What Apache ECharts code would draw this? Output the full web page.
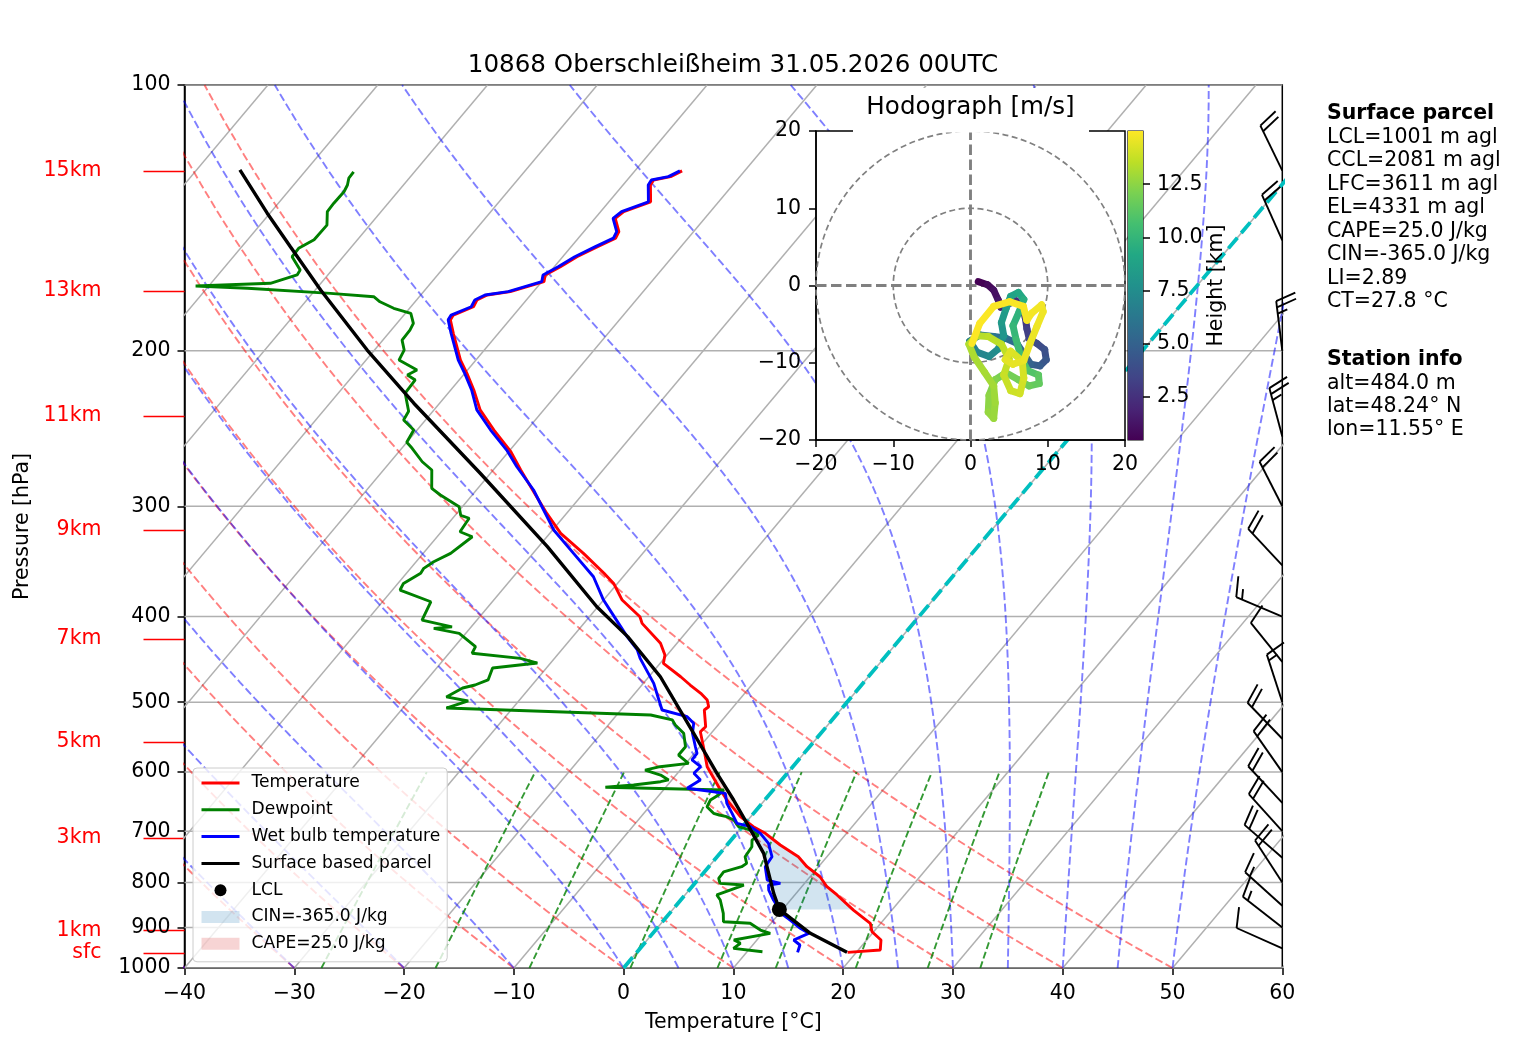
<!DOCTYPE html>
<html><head><meta charset="utf-8">
<script src="https://cdn.jsdelivr.net/npm/echarts@6/dist/echarts.min.js"></script>
<style>html,body{margin:0;padding:0;background:#fff}#c{width:1517px;height:1054px}</style>
</head><body><div id="c"></div>
<script>
// ---------------- DATA ----------------
const titleText = '10868 Oberschleißheim 31.05.2026 00UTC';
// [pressure hPa, temperature °C]
const temperature = [[960,19.2],[954.1,22.0],[929.6,21.3],[909.7,19.85],[890,19.05],[859.8,16.5],[826.6,13.85],[809,12.3],[788.2,10.9],[767.9,8.95],[748.2,7.4],[725.6,4.85],[703.9,2.6],[691.8,1.0],[674,-0.95],[645.3,-3.45],[628.7,-4.8],[591.6,-7.8],[568.9,-9.2],[540,-11.1],[533,-11.0],[510.3,-12.4],[506,-12.25],[497.2,-12.9],[488.6,-14.0],[478.1,-15.6],[467.9,-17.1],[451.8,-19.7],[442.1,-20.2],[428.8,-21.5],[407.1,-24.7],[400.2,-25.4],[383.1,-28.3],[366.8,-30.35],[357.3,-32.0],[339.2,-35.4],[322,-39.0],[305.6,-41.8],[292.6,-44.0],[272.9,-47.5],[260.2,-49.8],[245.9,-53.0],[233.3,-55.8],[221.5,-57.9],[212.1,-59.8],[204.9,-61.4],[191.1,-64.1],[184.5,-65.4],[182.2,-65.5],[178.3,-64.3],[175.2,-64.5],[172.9,-63.95],[171.4,-62.1],[167,-59.8],[164.1,-60.2],[160.6,-59.45],[156.5,-58.7],[152.4,-57.6],[149.1,-56.6],[146.6,-56.8],[141.6,-58.15],[139.1,-57.9],[135.6,-56.2],[129.8,-57.5],[128.1,-57.6],[127,-56.3],[125.1,-55.7]];
const dewpoint = [[958.4,11.4],[950,8.5],[937.6,8.75],[929.6,7.9],[913.5,10.7],[905.7,9.55],[890,8.1],[886.3,5.55],[867.3,4.9],[837.6,3.6],[826.6,2.9],[805.5,4.6],[802,2.3],[791.6,1.8],[778.2,1.75],[767.9,3.0],[761.3,3.2],[748.2,2.55],[728.9,2.4],[716.3,1.9],[707.1,2.1],[697.9,1.0],[691.8,-0.35],[679.8,-1.3],[674,-2.2],[671,-3.0],[668.1,-3.65],[656.8,-4.75],[645.3,-4.95],[636.9,-4.6],[628.7,-4.5],[624.2,-15.5],[620.5,-13.1],[615.2,-10.9],[612.4,-10.3],[604.6,-11.4],[596.8,-13.2],[591.6,-12.1],[586.5,-9.75],[573.9,-11.3],[561.6,-11.3],[542.2,-12.5],[530.6,-13.9],[523.7,-14.55],[517,-16.9],[507.7,-36.05],[498.4,-34.6],[493.2,-36.9],[481.8,-36.1],[478.1,-35.2],[471.8,-34.4],[457.4,-34.9],[451.5,-31.2],[446,-33.1],[440.1,-37.9],[432.5,-38.1],[417.8,-40.6],[412.4,-43.3],[410.8,-41.75],[403.6,-45.0],[384.8,-45.6],[373.2,-49.3],[366.8,-49.5],[357.3,-48.7],[352.7,-48.8],[346.7,-48.4],[339.2,-47.5],[324.8,-46.8],[320.6,-48.3],[309.5,-48.5],[307.1,-49.5],[300.3,-50.3],[291.3,-52.9],[286.3,-54.2],[272.9,-55.6],[267.1,-57.1],[257.9,-59.05],[253.9,-60.0],[245.9,-60.3],[239.5,-62.0],[234.2,-62.2],[223.4,-63.9],[215.8,-64.0],[213,-65.1],[210.3,-64.6],[204.9,-67.0],[199.6,-67.3],[194.5,-68.25],[189.5,-68.3],[186.2,-68.5],[181.4,-69.5],[179,-71.45],[176,-73.2],[173.7,-74.15],[172.2,-78.35],[169.9,-86.3],[168.9,-91.2],[167.7,-84.6],[164.1,-82.8],[162,-82.9],[156.5,-84.65],[153.1,-84.7],[149.7,-83.95],[144.1,-83.9],[139.1,-84.9],[136.1,-84.95],[132.1,-84.9],[129.8,-85.1],[127.5,-85.5],[125.4,-85.55]];
const wetbulb = [[960,14.65],[941.8,14.3],[929.6,13.35],[913.5,14.2],[901.6,13.05],[882.4,11.5],[870.9,10.5],[855.9,9.55],[837.6,8.45],[816,7.25],[805.5,6.85],[802,7.8],[795.1,6.35],[767.9,5.15],[748.2,5.0],[722.4,3.65],[703.9,2.15],[691.8,0.75],[685.7,-0.75],[668.1,-1.96],[651,-3.2],[634.3,-4.1],[625.8,-7.98],[612.4,-7.4],[601.9,-8.5],[591.6,-8.4],[581.3,-9.7],[571.3,-9.75],[561.6,-10.4],[542.2,-11.7],[528.3,-12.35],[519.3,-13.45],[510.3,-16.25],[497.2,-17.3],[476,-19.05],[446,-22.2],[436.3,-23.1],[421.4,-25.05],[396.6,-28.2],[383.1,-30.0],[360.5,-32.7],[339.2,-36.3],[319.1,-39.9],[302.9,-42.35],[287.5,-44.8],[270.6,-48.1],[259.1,-50.3],[245.9,-53.3],[233.3,-56.1],[221.5,-58.1],[212.1,-60.0],[204.9,-61.6],[191.1,-64.3],[184.5,-65.6],[182.2,-65.7],[178.3,-64.5],[175.2,-64.7],[172.9,-64.15],[171.4,-62.3],[167,-60.0],[164.1,-60.4],[160.6,-59.65],[156.5,-58.9],[152.4,-57.8],[149.1,-56.8],[146.6,-57.0],[141.6,-58.35],[139.1,-58.1],[135.6,-56.4],[129.8,-57.7],[128.1,-57.8],[127,-56.5],[125.1,-55.9]];
const parcel = [[960,19.15],[913.5,14.35],[858.3,9.7],[823,7.95],[741.6,3.98],[685.7,0.16],[645.3,-2.84],[601.9,-6.4],[542.2,-11.59],[467.9,-18.95],[421.4,-25.0],[389.8,-30.1],[333.3,-39.2],[275.4,-50.9],[229.3,-62.35],[199.6,-70.67],[170.7,-79.5],[152.4,-85.6],[139.7,-90.25],[124.8,-96.05]];
const lcl = [858.3, 9.7];
const elPressure = 569;
const cinLabel = 'CIN=-365.0 J/kg';
const capeLabel = 'CAPE=25.0 J/kg';
const pressureTicks = [100,200,300,400,500,600,700,800,900,1000];
const heightLabels = ['15km','13km','11km','9km','7km','5km','3km','1km','sfc'];
const heightPressures = [125.1,171.1,237.0,319.1,424.0,554.5,712.2,907.2,962];
// wind barbs: pressure, direction (deg, from), speed (kt)
const barbPressure = [125,150,200,250,300,350,400,450,500,550,600,650,700,750,800,850,900,950];
const barbDirection = [334,336,353,345,333,317,293,321,342,316,325,317,318,311,327,312,308,294];
const barbSpeed = [20,20,25,25,20,20,15,10,15,20,20,20,20,20,20,15,15,10];
// hodograph: height (km), u, v (m/s)
const hodoHeight = [0.484,0.8,1.1,1.4,1.7,2.0,2.3,2.6,2.9,3.2,3.5,3.8,4.1,4.4,4.7,5.0,5.3,5.6,5.9,6.2,6.5,6.8,7.1,7.4,7.7,8.0,8.3,8.6,8.9,9.2,9.5,9.8,10.1,10.4,10.7,11.0,11.3,11.5,11.7,11.9,12.1,12.3,12.5,12.7,12.8,12.9,13.0,13.1,13.2,13.3,13.4,13.5,13.6,13.7,13.8,13.9,14.0,14.1,14.2,14.3,14.4,14.5,14.55,14.6,14.65,14.7,14.75,14.8,14.85,14.9,14.93,14.96,14.98,15.0];
const hodoU = [1.0,2.2,3.0,3.6,3.9,4.6,5.9,6.7,7.1,7.3,7.6,8.6,9.6,9.8,9.0,7.8,7.0,6.0,4.5,3.0,1.2,-0.1,0.8,2.4,3.6,4.3,4.0,4.6,5.2,6.2,6.9,6.3,5.5,5.9,6.6,7.4,8.8,8.9,7.6,6.2,4.6,3.2,2.4,2.3,3.0,3.2,3.0,1.8,0.5,-0.2,0.8,2.3,4.0,5.0,4.3,5.2,6.4,6.9,6.7,5.2,4.5,5.5,6.9,7.7,8.6,9.4,9.2,7.9,7.3,6.85,5.1,3.0,1.2,0.2];
const hodoV = [0.5,0.1,-0.6,-1.9,-2.8,-2.5,-2.0,-2.8,-4.2,-5.6,-6.9,-7.5,-8.3,-9.6,-10.4,-10.2,-9.0,-7.5,-6.8,-6.6,-6.4,-7.2,-8.6,-9.2,-8.2,-6.5,-4.8,-3.0,-1.4,-0.9,-1.8,-3.4,-5.2,-7.0,-9.5,-11.0,-11.6,-12.7,-13.0,-12.2,-11.3,-12.2,-14.2,-16.4,-17.2,-15.2,-13.0,-11.2,-9.3,-7.6,-6.5,-6.6,-7.6,-9.5,-11.6,-13.6,-14.0,-12.0,-9.8,-8.5,-9.6,-10.2,-9.7,-7.5,-5.3,-3.4,-2.5,-3.6,-4.5,-2.7,-2.1,-2.7,-4.9,-7.5];
const hodoRings = [10, 20];
const colorbarTicks = [2.5, 5.0, 7.5, 10.0, 12.5];
const parcelInfoTitle = 'Surface parcel';
const parcelInfo = ['LCL=1001 m agl','CCL=2081 m agl','LFC=3611 m agl','EL=4331 m agl','CAPE=25.0 J/kg','CIN=-365.0 J/kg','LI=2.89','CT=27.8 °C'];
const stationInfoTitle = 'Station info';
const stationInfo = ['alt=484.0 m','lat=48.24° N','lon=11.55° E'];
// background line families (thermodynamic diagram grid)
const isotherms = [-110,-100,-90,-80,-70,-60,-50,-40,-30,-20,-10,0,10,20,30,40,50,60];
const dryAdiabatStart = [-40,-30,-20,-10,0,10,20,30,40,50];
const moistAdiabatStart = [-40,-30,-20,-10,0,5,10,15,20,25,30,35,40,45,50];
const mixingRatios = [0.0004,0.001,0.002,0.004,0.007,0.01,0.016,0.024,0.032];
const viridis = ['#440154','#482475','#414487','#355f8d','#2a788e','#21918c','#22a884','#44bf70','#7ad151','#bddf26','#fde725'];

// ---------------- HELPERS ----------------
const FONT = "'DejaVu Sans', sans-serif";
const FS = 20.5;       // 10 pt text
const FS_BIG = 24.6;   // 12 pt text
const FS_LEG = 17.1;   // legend text
const K = 67.6; // skew: °C per decade of pressure
const LOG = Math.log10;
const sk = (T, p) => [T + K * LOG(1000 / p), LOG(p)];
const prof = arr => arr.map(d => sk(d[1], d[0]));
const minus = s => String(s).replace('-', '\u2212');

const bgP = []; for (let p = 1000; p >= 100; p -= 10) bgP.push(p);
const mixP = []; for (let p = 1000; p >= 600; p -= 10) mixP.push(p);

function satMix(p, T) { const es = 6.112 * Math.exp(17.67 * (T - 273.15) / (T - 29.65)); return 0.621957 * es / (p - es); }
function dTdp(p, T) {
  const Rd = 287.04749, Cp = 1004.6662, Lv = 2.50084e6, eps = 0.621957;
  const rs = satMix(p, T);
  return (1 / p) * (Rd * T + Lv * rs) / (Cp + (Lv * Lv * rs * eps) / (Rd * T * T));
}
function moistLine(t0) {
  let T = t0 + 273.15, p = 1000; const out = [sk(t0, 1000)];
  const dp = -5;
  while (p > 100) {
    const k1 = dTdp(p, T), k2 = dTdp(p + dp / 2, T + dp / 2 * k1), k3 = dTdp(p + dp / 2, T + dp / 2 * k2), k4 = dTdp(p + dp, T + dp * k3);
    T += dp / 6 * (k1 + 2 * k2 + 2 * k3 + k4); p += dp;
    out.push(sk(T - 273.15, p));
  }
  return out;
}
function interpT(arr, p) {
  for (let i = 0; i < arr.length - 1; i++) {
    const a = arr[i], b = arr[i + 1];
    if (p <= a[0] && p >= b[0]) { const f = Math.log(a[0] / p) / Math.log(a[0] / b[0]); return a[1] + f * (b[1] - a[1]); }
  }
  return NaN;
}

const series = [];
const bgLine = (data, color, width, type, z) => ({ type: 'line', xAxisIndex: 0, yAxisIndex: 0, data, symbol: 'none', silent: true, clip: true, z: z || 1, lineStyle: { color, width, type: type || 'solid' } });

// isobars
pressureTicks.forEach(p => series.push(bgLine([[-40, LOG(p)], [60, LOG(p)]], '#b0b0b0', 1.5)));
// isotherms
isotherms.forEach(t => series.push(bgLine([sk(t, 1000), sk(t, 100)], '#b0b0b0', 1.5)));
// dry adiabats
dryAdiabatStart.forEach(t0 => series.push(bgLine(bgP.map(p => sk((t0 + 273.15) * Math.pow(p / 1000, 0.28571) - 273.15, p)), 'rgba(255,0,0,0.5)', 1.9, [8, 3.5])));
// moist adiabats
moistAdiabatStart.forEach(t0 => series.push(bgLine(moistLine(t0), 'rgba(0,0,255,0.5)', 1.9, [8, 3.5])));
// mixing ratio lines
mixingRatios.forEach(w => series.push(bgLine(mixP.map(p => {
  const e = p * w / (0.621957 + w); const v = Math.log(e / 6.112); return sk(243.5 * v / (17.67 - v), p);
}), 'rgba(0,128,0,0.8)', 1.9, [7, 3])));
// 0°C isotherm
series.push(bgLine([sk(0, 1000), sk(0, 100)], '#00bfbf', 3.8, [14, 6], 2));

// CIN / CAPE shading
function fillSeries(name, color, isCape) {
  return {
    type: 'custom', name, xAxisIndex: 0, yAxisIndex: 0, z: 2, silent: true, clip: true,
    itemStyle: { color },
    data: [[0, 2.5]],
    renderItem: (params, api) => {
      const ps = []; for (let p = lcl[0]; p >= elPressure; p -= 0.5) ps.push(p);
      const left = [], right = [];
      ps.forEach(p => {
        const tp = interpT(parcel, p), te = interpT(temperature, p);
        if (isNaN(tp) || isNaN(te)) return;
        if (!isCape) { left.push(api.coord(sk(tp, p))); right.push(api.coord(sk(Math.max(tp, te), p))); }
        else { left.push(api.coord(sk(te, p))); right.push(api.coord(sk(Math.max(tp, te), p))); }
      });
      const pts = left.concat(right.reverse());
      return { type: 'polygon', shape: { points: pts }, style: { fill: color, stroke: 'none' } };
    }
  };
}
series.push(fillSeries(cinLabel, 'rgba(31,119,180,0.2)', false));
series.push(fillSeries(capeLabel, 'rgba(214,39,40,0.2)', true));

const profLine = (name, data, color, width) => ({ type: 'line', name, xAxisIndex: 0, yAxisIndex: 0, data, symbol: 'none', z: 3, clip: true, lineStyle: { color, width }, itemStyle: { color } });
series.push(profLine('Temperature', prof(temperature), '#ff0000', 2.9));
series.push(profLine('Dewpoint', prof(dewpoint), '#008000', 2.9));
series.push(profLine('Wet bulb temperature', prof(wetbulb), '#0000ff', 2.9));
series.push(profLine('Surface based parcel', prof(parcel), '#000000', 3.4));
series.push({ type: 'scatter', name: 'LCL', xAxisIndex: 0, yAxisIndex: 0, z: 4, data: [sk(lcl[1], lcl[0])], symbol: 'circle', symbolSize: 15, itemStyle: { color: '#000', opacity: 1 } });

// wind barbs
series.push({
  type: 'custom', xAxisIndex: 0, yAxisIndex: 0, z: 3, silent: true, clip: false,
  data: barbPressure.map((p, i) => [60, LOG(p), barbDirection[i], barbSpeed[i]]),
  renderItem: (params, api) => {
    const base = api.coord([api.value(0), api.value(1)]);
    const dir = api.value(2) * Math.PI / 180; let s = Math.round(api.value(3) / 5) * 5;
    const L = 50, H = 0.4 * L, W = 0.25 * L, S = 0.125 * L;
    const d = [Math.sin(dir), -Math.cos(dir)], r = [Math.cos(dir), Math.sin(dir)];
    const pt = (o, h) => [base[0] + d[0] * o + r[0] * h, base[1] + d[1] * o + r[1] * h];
    const st = { stroke: '#000', lineWidth: 1.9, fill: 'none', lineCap: 'butt' };
    const seg = (a, b) => ({ type: 'line', shape: { x1: a[0], y1: a[1], x2: b[0], y2: b[1] }, style: st });
    const ch = [seg(base, pt(L, 0))];
    const nFlag = Math.floor(s / 50); s -= nFlag * 50;
    const nFull = Math.floor(s / 10); s -= nFull * 10;
    const half = s >= 5;
    let off = L;
    for (let i = 0; i < nFlag; i++) { ch.push({ type: 'polygon', shape: { points: [pt(off, 0), pt(off - W / 2, H), pt(off - W, 0)] }, style: { fill: '#000', stroke: '#000' } }); off -= W + S; }
    for (let i = 0; i < nFull; i++) { ch.push(seg(pt(off, 0), pt(off + W / 2, H))); off -= S; }
    if (half) { if (off === L) off -= 1.5 * S; ch.push(seg(pt(off, 0), pt(off + W / 4, H / 2))); }
    return { type: 'group', children: ch };
  }
});

// ---- hodograph (grid 1) ----
series.push({
  type: 'line', xAxisIndex: 1, yAxisIndex: 2, zlevel: 1, z: 3, symbol: 'none', silent: true,
  data: [[-20, 0], [20, 0]], lineStyle: { color: '#808080', width: 2.9, type: [10.5, 4.5] }
});
series.push({
  type: 'line', xAxisIndex: 1, yAxisIndex: 2, zlevel: 1, z: 3, symbol: 'none', silent: true,
  data: [[0, -20], [0, 20]], lineStyle: { color: '#808080', width: 2.9, type: [10.5, 4.5] }
});
series.push({
  type: 'custom', xAxisIndex: 1, yAxisIndex: 2, zlevel: 1, z: 3, silent: true,
  data: hodoRings.map(r => [r, 0]),
  renderItem: (params, api) => {
    const c = api.coord([0, 0]), e = api.coord([api.value(0), 0]);
    return { type: 'circle', shape: { cx: c[0], cy: c[1], r: e[0] - c[0] }, style: { fill: 'none', stroke: '#808080', lineWidth: 1.7, lineDash: [6, 3.5] } };
  }
});
const hodoSeriesIndex = series.length;
const hodoSegs = [];
for (let i = 0; i < hodoHeight.length - 1; i++) hodoSegs.push([hodoU[i], hodoV[i], hodoU[i + 1], hodoV[i + 1], hodoHeight[i]]);
series.push({
  type: 'custom', xAxisIndex: 1, yAxisIndex: 2, zlevel: 1, z: 4, silent: true,
  encode: { x: [0, 2], y: [1, 3] },
  data: hodoSegs,
  renderItem: (params, api) => {
    const a = api.coord([api.value(0), api.value(1)]), b = api.coord([api.value(2), api.value(3)]);
    return { type: 'line', shape: { x1: a[0], y1: a[1], x2: b[0], y2: b[1] }, style: { stroke: api.visual('color'), lineWidth: 7, lineCap: 'round' } };
  }
});
const hMin = Math.min(...hodoHeight), hMax = Math.max(...hodoHeight);
// colorbar
series.push({
  type: 'custom', xAxisIndex: 2, yAxisIndex: 3, zlevel: 1, z: 3, silent: true,
  data: [[0, hMin]],
  renderItem: (params, api) => {
    const a = api.coord([0, hMax]), b = api.coord([1, hMin]);
    const stops = viridis.map((c, i) => ({ offset: 1 - i / (viridis.length - 1), color: c }));
    stops.reverse();
    return { type: 'rect', shape: { x: a[0], y: a[1], width: b[0] - a[0], height: b[1] - a[1] }, style: { fill: new echarts.graphic.LinearGradient(0, 0, 0, 1, stops) } };
  }
});

const axisText = { fontSize: FS, color: '#000', fontFamily: FONT };
const blk = { color: '#000', width: 1.5 };

const graphic = [];
// hodograph title with white box
graphic.push({ type: 'rect', zlevel: 1, z: 50, shape: { x: 853, y: 88, width: 236, height: 44.5 }, style: { fill: '#fff' }, silent: true });
graphic.push({ type: 'text', zlevel: 1, z: 51, x: 970.5, y: 108, style: { text: 'Hodograph [m/s]', fontSize: FS_BIG, fontFamily: FONT, fill: '#000', align: 'center', verticalAlign: 'middle' }, silent: true });
function infoBlock(title, lines, y0, pitch) {
  graphic.push({ type: 'text', x: 1327, y: y0, style: { text: title, fontSize: FS, fontWeight: 'bold', fontFamily: FONT, fill: '#000', align: 'left', verticalAlign: 'middle' }, silent: true });
  lines.forEach((t, i) => graphic.push({ type: 'text', x: 1327, y: y0 + pitch * (i + 1), style: { text: t, fontSize: FS, fontFamily: FONT, fill: '#000', align: 'left', verticalAlign: 'middle' }, silent: true }));
}
infoBlock(parcelInfoTitle, parcelInfo, 114, 23.5);
infoBlock(stationInfoTitle, stationInfo, 360, 23.2);

const lineLegend = name => ({ name, itemStyle: { opacity: 0 }, lineStyle: { width: 3 } });

const option = {
  animation: false,
  backgroundColor: '#fff',
  textStyle: { fontFamily: FONT },
  title: { text: titleText, left: 733, top: 53, textAlign: 'center', padding: 0, textStyle: { fontSize: FS_BIG, fontWeight: 'normal', color: '#000', fontFamily: FONT } },
  grid: [
    { left: 184.5, top: 85, width: 1097.8, height: 883, show: true, borderColor: '#000', borderWidth: 1.5, backgroundColor: 'transparent', containLabel: false, outerBoundsMode: 'none' },
    { left: 816, top: 131, width: 309, height: 309, show: true, borderColor: '#000', borderWidth: 1.5, backgroundColor: '#fff', zlevel: 1, containLabel: false, outerBoundsMode: 'none' },
    { left: 1128, top: 131, width: 15, height: 309, show: true, borderColor: '#000', borderWidth: 1.2, backgroundColor: 'transparent', zlevel: 1, containLabel: false, outerBoundsMode: 'none' }
  ],
  xAxis: [
    { type: 'value', gridIndex: 0, min: -40, max: 60, interval: 10, axisLine: { show: true, onZero: false, lineStyle: blk }, axisTick: { show: true, length: 7, lineStyle: blk }, axisLabel: Object.assign({ margin: 15, formatter: v => minus(v), showMinLabel: true, showMaxLabel: true }, axisText), splitLine: { show: false },
      name: 'Temperature [°C]', nameLocation: 'middle', nameGap: 44, nameTextStyle: axisText },
    { type: 'value', gridIndex: 1, min: -20, max: 20, interval: 10, zlevel: 1, axisLine: { show: true, onZero: false, lineStyle: blk }, axisTick: { show: true, length: 7, lineStyle: blk }, axisLabel: Object.assign({ margin: 14, formatter: v => minus(v), showMinLabel: true, showMaxLabel: true }, axisText), splitLine: { show: false } },
    { type: 'value', gridIndex: 2, min: 0, max: 1, show: false, zlevel: 1 }
  ],
  yAxis: [
    { type: 'value', gridIndex: 0, min: 2, max: 3, inverse: true, axisLine: { show: true, onZero: false, lineStyle: blk },
      axisTick: { show: true, length: 7, lineStyle: blk, customValues: pressureTicks.map(LOG) },
      axisLabel: Object.assign({ margin: 14, customValues: pressureTicks.map(LOG), formatter: v => String(Math.round(Math.pow(10, v))) }, axisText),
      splitLine: { show: false },
      name: 'Pressure [hPa]', nameLocation: 'middle', nameGap: 151, nameRotate: 90, nameTextStyle: axisText },
    { type: 'value', gridIndex: 0, min: 2, max: 3, inverse: true, position: 'left', axisLine: { show: false, onZero: false },
      axisTick: { show: true, length: 41, lineStyle: { color: '#ff0000', width: 1.3 }, customValues: heightPressures.map(LOG) },
      axisLabel: { margin: 83, customValues: heightPressures.map(LOG), color: '#ff0000', fontSize: FS, fontFamily: FONT,
        formatter: v => { let best = 0, bd = 1e9; heightPressures.forEach((p, i) => { const dd = Math.abs(LOG(p) - v); if (dd < bd) { bd = dd; best = i; } }); return heightLabels[best]; } },
      splitLine: { show: false } },
    { type: 'value', gridIndex: 1, min: -20, max: 20, interval: 10, zlevel: 1, axisLine: { show: true, onZero: false, lineStyle: blk }, axisTick: { show: true, length: 7, lineStyle: blk }, axisLabel: Object.assign({ margin: 15, formatter: v => minus(v), showMinLabel: true, showMaxLabel: true }, axisText), splitLine: { show: false } },
    { type: 'value', gridIndex: 2, min: hMin, max: hMax, position: 'right', zlevel: 1, axisLine: { show: false, onZero: false },
      axisTick: { show: true, length: 7, lineStyle: blk, customValues: colorbarTicks },
      axisLabel: Object.assign({ margin: 14, customValues: colorbarTicks, formatter: v => v.toFixed(1) }, axisText),
      splitLine: { show: false },
      name: 'Height [km]', nameLocation: 'middle', nameGap: 53, nameRotate: 90, nameTextStyle: axisText }
  ],
  visualMap: [{ type: 'continuous', show: false, seriesIndex: hodoSeriesIndex, dimension: 4, min: hMin, max: hMax, inRange: { color: viridis } }],
  legend: {
    show: true, orient: 'vertical', left: 193, top: 768, padding: [6.5, 7, 9.5, 7], itemGap: 9.8, itemWidth: 38, itemHeight: 12,
    backgroundColor: 'rgba(255,255,255,0.8)', borderColor: '#cccccc', borderWidth: 1, borderRadius: 4,
    textStyle: { fontSize: FS_LEG, lineHeight: 16.5, color: '#000', fontFamily: FONT, padding: [0, 0, 0, 7] },
    selectedMode: false,
    data: [
      lineLegend('Temperature'), lineLegend('Dewpoint'), lineLegend('Wet bulb temperature'), lineLegend('Surface based parcel'),
      { name: 'LCL', icon: 'circle', itemStyle: { color: '#000', opacity: 1 } },
      { name: cinLabel, icon: 'rect', itemStyle: { color: 'rgba(31,119,180,0.2)' } },
      { name: capeLabel, icon: 'rect', itemStyle: { color: 'rgba(214,39,40,0.2)' } }
    ]
  },
  graphic,
  series
};
const chart = echarts.init(document.getElementById('c'), null, { renderer: 'canvas' });
chart.setOption(option);
</script></body></html>
